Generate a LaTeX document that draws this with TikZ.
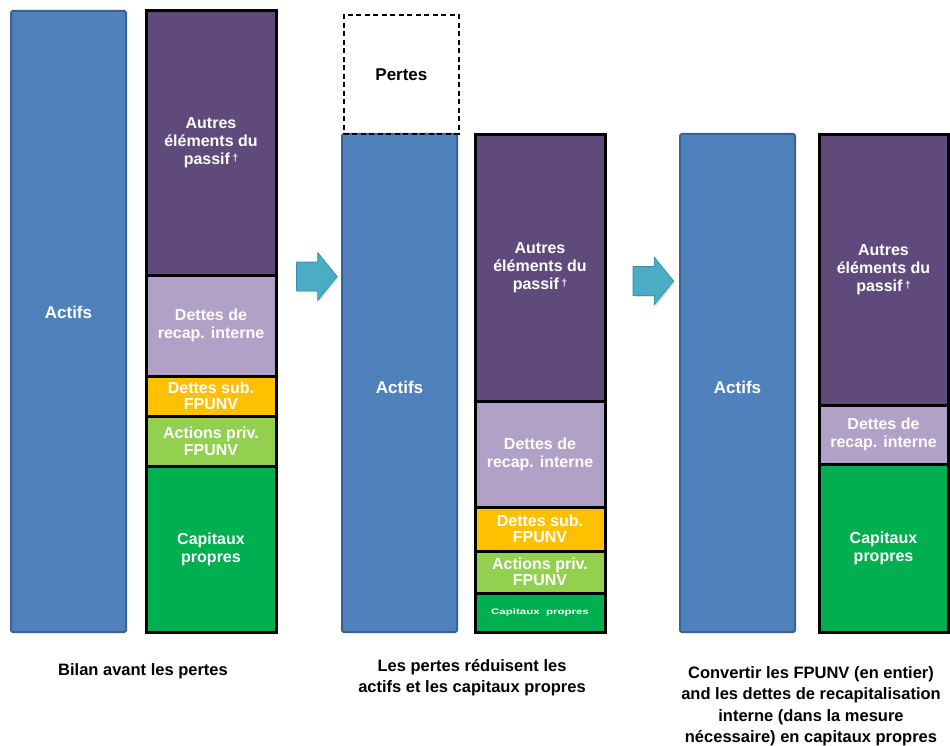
\documentclass[tikz,border=0pt]{standalone}
\usepackage{fontspec}
\setmainfont{Liberation Sans}
\usetikzlibrary{shapes.arrows,shadows}
\definecolor{assetblue}{HTML}{4F81BD}
\definecolor{assetedge}{HTML}{3A6290}
\definecolor{otherliab}{HTML}{604A7B}
\definecolor{bailin}{HTML}{B2A1C7}
\definecolor{subdebt}{HTML}{FFC000}
\definecolor{prefsh}{HTML}{92D050}
\definecolor{equity}{HTML}{00B050}
\definecolor{arrowcol}{HTML}{4BACC6}
\definecolor{arrowedge}{HTML}{3E93AC}
\tikzset{
  seg/.style={draw=black, line width=3pt, anchor=north west, inner sep=0pt, outer sep=0pt,
     text=white, align=center, font=\fontsize{16}{18}\selectfont\bfseries},
  asset/.style={draw=assetedge, fill=assetblue, line width=2pt, rounded corners=1.5pt,
     anchor=north west, inner sep=0pt, outer sep=0pt},
  boxtxt/.style={text=white, font=\fontsize{17}{20}\selectfont\bfseries},
  capt/.style={align=center, text=black, font=\fontsize{16.5}{21.5}\selectfont\bfseries},
  bigarrow/.style={single arrow, fill=arrowcol, draw=arrowedge, line width=0.8pt,
     inner sep=14pt, single arrow head extend=9.5pt, single arrow tip angle=102,
     minimum height=40pt, drop shadow={shadow xshift=1.5pt, shadow yshift=-1.5pt, opacity=0.25}}
}
\newcommand{\mydagger}{\,\raisebox{0.45ex}{\fontsize{10}{10}\selectfont †}}
\begin{document}
\begin{tikzpicture}[x=1pt,y=-1pt]
\useasboundingbox (0,0) rectangle (950,746);
\fill[white] (0,0) rectangle (950,746);

% ---------- Panel 1 ----------
\node[asset, minimum width=115pt, minimum height=621pt] (act1) at (11,11) {};
\node[boxtxt] (act1t) at (68.5,312) {Actifs};
\node[seg, fill=otherliab, minimum width=130pt, minimum height=264pt] (oth1) at (146,11)
  {Autres\\éléments du\\passif\mydagger};
\node[seg, fill=bailin, minimum width=130pt, minimum height=101pt] (bail1) at (146,275)
  {Dettes de\\recap. interne};
\node[seg, fill=subdebt, minimum width=130pt, minimum height=40pt, font=\fontsize{16}{16}\selectfont\bfseries] (sub1) at (146,376)
  {Dettes sub.\\FPUNV};
\node[seg, fill=prefsh, minimum width=130pt, minimum height=50pt, font=\fontsize{16}{17}\selectfont\bfseries] (pref1) at (146,416)
  {Actions priv.\\FPUNV};
\node[seg, fill=equity, minimum width=130pt, minimum height=166pt] (eq1) at (146,466)
  {Capitaux\\propres};

% ---------- Arrow 1 ----------
\node[bigarrow] (arr1) at (311,276.5) {};

% ---------- Panel 2 ----------
\node[asset, minimum width=115pt, minimum height=498pt] (act2) at (342,134) {};
\node[boxtxt] (act2t) at (399.5,387) {Actifs};
\node[draw=black, dash pattern=on 5pt off 3.5pt, line width=1.8pt, anchor=north west, minimum width=115pt,
  minimum height=119pt, inner sep=0pt, font=\fontsize{17}{20}\selectfont\bfseries] (loss) at (343,14) {\raisebox{-2pt}{Pertes}};
\node[seg, fill=otherliab, minimum width=130pt, minimum height=266pt] (oth2) at (475,135)
  {Autres\\éléments du\\passif\mydagger};
\node[seg, fill=bailin, minimum width=130pt, minimum height=106pt] (bail2) at (475,401)
  {Dettes de\\recap. interne};
\node[seg, fill=subdebt, minimum width=130pt, minimum height=44pt, font=\fontsize{16}{16}\selectfont\bfseries] (sub2) at (475,507)
  {Dettes sub.\\FPUNV};
\node[seg, fill=prefsh, minimum width=130pt, minimum height=42pt, font=\fontsize{16}{16}\selectfont\bfseries] (pref2) at (475,551)
  {Actions priv.\\FPUNV};
\node[seg, fill=equity, minimum width=130pt, minimum height=39pt, font=\fontsize{10}{10}\selectfont\bfseries] (eq2) at (475,593)
  {\scalebox{1.15}[0.8]{Capitaux\ \ propres}};

% ---------- Arrow 2 ----------
\node[bigarrow] (arr2) at (647.5,281) {};

% ---------- Panel 3 ----------
\node[asset, minimum width=115pt, minimum height=498pt] (act3) at (680,134) {};
\node[boxtxt] (act3t) at (737.5,387) {Actifs};
\node[seg, fill=otherliab, minimum width=129pt, minimum height=270pt] (oth3) at (819,135)
  {Autres\\éléments du\\passif\mydagger};
\node[seg, fill=bailin, minimum width=129pt, minimum height=59pt] (bail3) at (819,405)
  {Dettes de\\recap. interne};
\node[seg, fill=equity, minimum width=129pt, minimum height=168pt] (eq3) at (819,464)
  {Capitaux\\propres};

% ---------- Captions ----------
\node[capt] (cap1) at (143,671) {Bilan avant les pertes};
\node[capt] (cap2) at (472,677.5) {Les pertes réduisent les\\actifs et les capitaux propres};
\node[capt] (cap3) at (811,706) {Convertir les FPUNV (en entier)\\and les dettes de recapitalisation\\interne (dans la mesure\\nécessaire) en capitaux propres};
\end{tikzpicture}
\end{document}
